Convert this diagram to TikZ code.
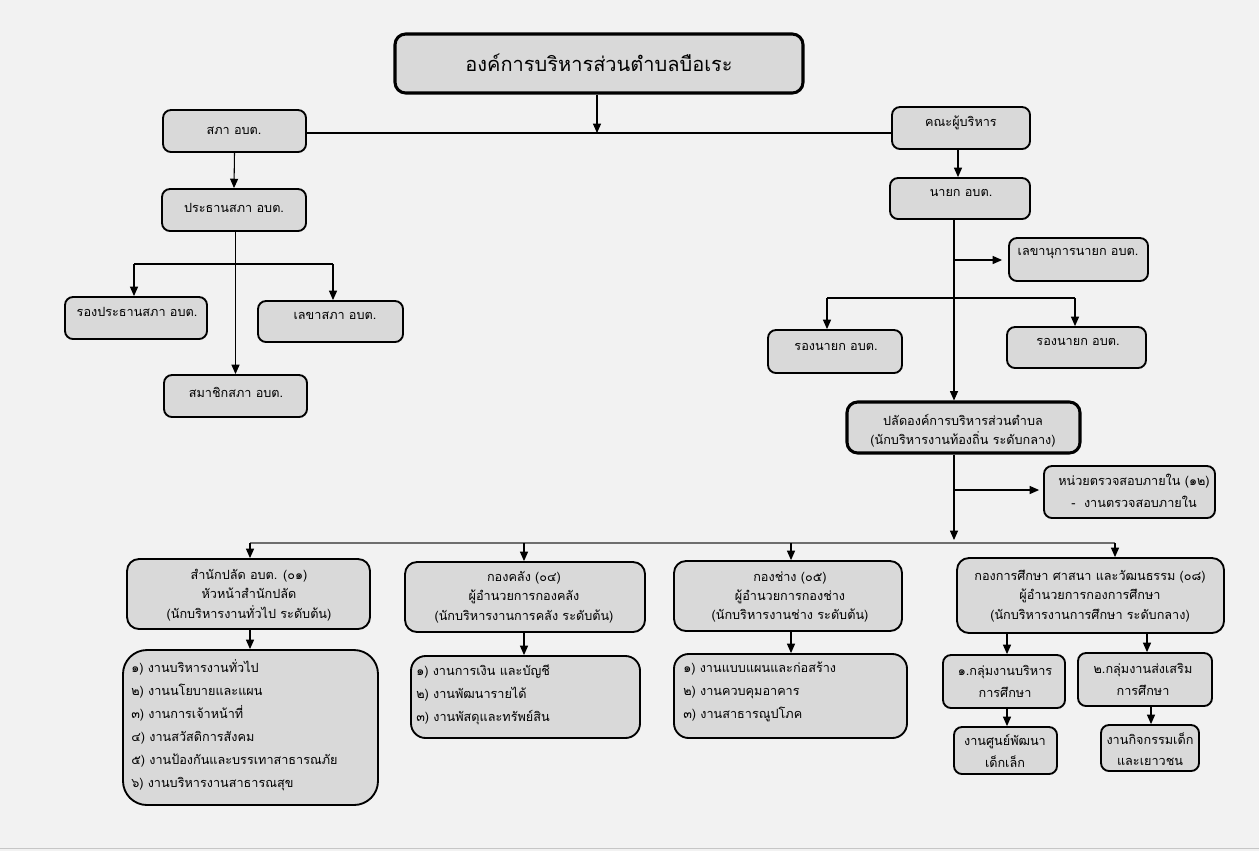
\documentclass[tikz,border=0pt]{standalone}
\usepackage{fontspec}
\newfontfamily\thai[Script=Thai]{Loma}
\usetikzlibrary{arrows.meta,calc}
\definecolor{bg}{HTML}{F2F2F2}
\definecolor{boxfill}{HTML}{D9D9D9}
\definecolor{branch}{HTML}{6E6E6E}
\tikzset{
 box/.style={draw=black, fill=boxfill, line width=1.4pt, rounded corners=6pt, inner sep=0pt},
 thickbox/.style={line width=2.3pt},
 txt/.style={font=\thai\fontsize{9.5}{14.5}\selectfont, inner sep=0pt, text=black, align=center},
 listtxt/.style={font=\thai\fontsize{9.5}{17.3}\selectfont, inner sep=0pt, text=black, align=left, anchor=west},
 arr/.style={-{Triangle[width=6pt,length=7pt]}, line width=0.8pt},
 ln/.style={line width=0.8pt},
}
\newcommand\mybox[6]{\node[box,#6,minimum width={(#4-#2)*0.75pt},minimum height={(#5-#3)*0.75pt}] (#1) at ({(#2+#4)/2},{(#3+#5)/2}) {};}
\begin{document}
\begin{tikzpicture}[x=0.75pt,y=-0.75pt]
\fill[bg] (0,0) rectangle (1259,851);
\useasboundingbox (0,0) rectangle (1259,851);
\draw[gray!45, line width=1pt] (0,848.5) -- (1259,848.5);

% boxes
\mybox{top}{395}{34}{803}{93}{thickbox,rounded corners=8pt}
\mybox{sapa}{163}{110}{306}{152}{}
\mybox{prathan}{162}{189}{306}{231}{}
\mybox{rongprathan}{65}{297}{207}{339}{}
\mybox{lekhasapa}{258}{301}{403}{342}{}
\mybox{samachik}{164}{375}{307}{417}{}
\mybox{khana}{892}{107}{1030}{149}{}
\mybox{nayok}{890}{178}{1030}{219}{}
\mybox{lekhanayok}{1009}{238}{1148}{281}{}
\mybox{rongL}{768}{330}{902}{373}{}
\mybox{rongR}{1007}{327}{1146}{368}{}
\mybox{palad}{847}{402}{1080}{453}{thickbox,rounded corners=8pt}
\mybox{audit}{1044}{466}{1215}{518}{}
\mybox{office}{127}{559}{370}{629}{rounded corners=9pt}
\mybox{listA}{123}{650}{378}{805}{rounded corners=18pt}
\mybox{finance}{405}{562}{645}{632}{rounded corners=9pt}
\mybox{listB}{411}{656}{640}{738}{rounded corners=11pt}
\mybox{works}{674}{561}{902}{631}{rounded corners=9pt}
\mybox{listC}{674}{654}{907}{738}{rounded corners=11pt}
\mybox{edu}{957}{558}{1224}{633}{rounded corners=9pt}
\mybox{grpA}{943}{655}{1065}{708}{}
\mybox{grpB}{1078}{653}{1212}{706}{}
\mybox{child}{954}{727}{1057}{774}{}
\mybox{youth}{1101}{725}{1199}{771}{}

% texts
\node[txt,font=\thai\fontsize{15}{18}\selectfont] (t0) at (599,63) {องค์การบริหารส่วนตำบลบือเระ};
\node[txt] (t1) at (234,131) {สภา อบต.};
\node[txt] (t2) at (234,208) {ประธานสภา อบต.};
\node[txt] (t3) at (137,312) {รองประธานสภา อบต.};
\node[txt] (t4) at (335,316) {เลขาสภา อบต.};
\node[txt] (t5) at (236,392) {สมาชิกสภา อบต.};
\node[txt] (t6) at (961,123) {คณะผู้บริหาร};
\node[txt] (t7) at (961,193) {นายก อบต.};
\node[txt] (t8) at (1078,254) {เลขานุการนายก อบต.};
\node[txt] (t9) at (836,347) {รองนายก อบต.};
\node[txt] (t10) at (1078,342) {รองนายก อบต.};
\node[txt] (t11) at (963,431) {ปลัดองค์การบริหารส่วนตำบล\\(นักบริหารงานท้องถิ่น ระดับกลาง)};
\node[txt,font=\thai\fontsize{9.5}{17}\selectfont] (t12) at (1134,491) {หน่วยตรวจสอบภายใน (๑๒)\\-\ \ งานตรวจสอบภายใน};
\node[txt] (t13) at (249,595) {สำนักปลัด อบต. (๐๑)\\หัวหน้าสำนักปลัด\\(นักบริหารงานทั่วไป ระดับต้น)};
\node[listtxt] (t14) at (131,725) {๑) งานบริหารงานทั่วไป\\๒) งานนโยบายและแผน\\๓) งานการเจ้าหน้าที่\\๔) งานสวัสดิการสังคม\\๕) งานป้องกันและบรรเทาสาธารณภัย\\๖) งานบริหารงานสาธารณสุข};
\node[txt] (t15) at (524,597) {กองคลัง (๐๔)\\ผู้อำนวยการกองคลัง\\(นักบริหารงานการคลัง ระดับต้น)};
\node[listtxt] (t16) at (416,695) {๑) งานการเงิน และบัญชี\\๒) งานพัฒนารายได้\\๓) งานพัสดุและทรัพย์สิน};
\node[txt] (t17) at (790,597) {กองช่าง (๐๕)\\ผู้อำนวยการกองช่าง\\(นักบริหารงานช่าง ระดับต้น)};
\node[listtxt] (t18) at (683,692) {๑) งานแบบแผนและก่อสร้าง\\๒) งานควบคุมอาคาร\\๓) งานสาธารณูปโภค};
\node[txt] (t19) at (1090,596) {กองการศึกษา ศาสนา และวัฒนธรรม (๐๘)\\ผู้อำนวยการกองการศึกษา\\(นักบริหารงานการศึกษา ระดับกลาง)};
\node[txt,font=\thai\fontsize{9.5}{16.5}\selectfont] (t20) at (1005,681) {๑.กลุ่มงานบริหาร\\การศึกษา};
\node[txt,font=\thai\fontsize{9.5}{16.5}\selectfont] (t21) at (1143,679) {๒.กลุ่มงานส่งเสริม\\การศึกษา};
\node[txt,font=\thai\fontsize{9.5}{16}\selectfont] (t22) at (1005,751) {งานศูนย์พัฒนา\\เด็กเล็ก};
\node[txt,font=\thai\fontsize{9.5}{16}\selectfont] (t23) at (1150,749) {งานกิจกรรมเด็ก\\และเยาวชน};

% junction coordinates
\coordinate (jTop) at (597,133);
\coordinate (jL1) at (134,264);
\coordinate (jL2) at (333,264);
\coordinate (jR0) at (954,260);
\coordinate (jR1) at (827,298);
\coordinate (jR2) at (1075,298);
\coordinate (jR3) at (954,490);
\coordinate (jB) at (954,543);
\coordinate (b1) at (250,543);
\coordinate (b2) at (524,543);
\coordinate (b3) at (791,543);
\coordinate (b4) at (1115,543);
\coordinate (xA) at (1007,0);
\coordinate (xB) at (1147,0);
\coordinate (xC) at (1151,0);
\coordinate (xK) at (958,0);

% connectors
\draw[arr] (top.south -| jTop) -- (jTop);
\draw[ln] (sapa.east |- jTop) -- (khana.west |- jTop);
\draw[arr] (sapa.south) -- (prathan.north);
\draw[arr] (prathan.south -| samachik.north) -- (samachik.north);
\draw[ln] (jL1) -- (jL2);
\draw[arr] (jL1) -- (jL1 |- rongprathan.north);
\draw[arr] (jL2) -- (jL2 |- lekhasapa.north);
\draw[arr] (khana.south -| xK) -- (nayok.north -| xK);
\draw[arr] (nayok.south -| jR0) -- (palad.north -| jR0);
\draw[arr] (jR0) -- ($(lekhanayok.west |- jR0)+(-6,0)$);
\draw[ln] (jR1) -- (jR2);
\draw[arr] (jR1) -- (jR1 |- rongL.north);
\draw[arr] (jR2) -- (jR2 |- rongR.north);
\draw[arr] (jR3) -- ($(audit.west |- jR3)+(-4,0)$);
\draw[arr] (palad.south -| jB) -- ($(jB)+(0,-3)$);
\draw[branch, line width=1pt] (b1) -- (b4);
\draw[arr] (b1) -- (b1 |- office.north);
\draw[arr] (b2) -- (b2 |- finance.north);
\draw[arr] (b3) -- (b3 |- works.north);
\draw[arr] (b4) -- (b4 |- edu.north);
\draw[arr] (office.south -| b1) -- (listA.north -| b1);
\draw[arr] (finance.south -| b2) -- (listB.north -| b2);
\draw[arr] (works.south -| b3) -- (listC.north -| b3);
\draw[arr] (edu.south -| xA) -- (grpA.north -| xA);
\draw[arr] (edu.south -| xB) -- (grpB.north -| xB);
\draw[arr] (grpA.south -| xA) -- (child.north -| xA);
\draw[arr] (grpB.south -| xC) -- (youth.north -| xC);
\end{tikzpicture}
\end{document}
